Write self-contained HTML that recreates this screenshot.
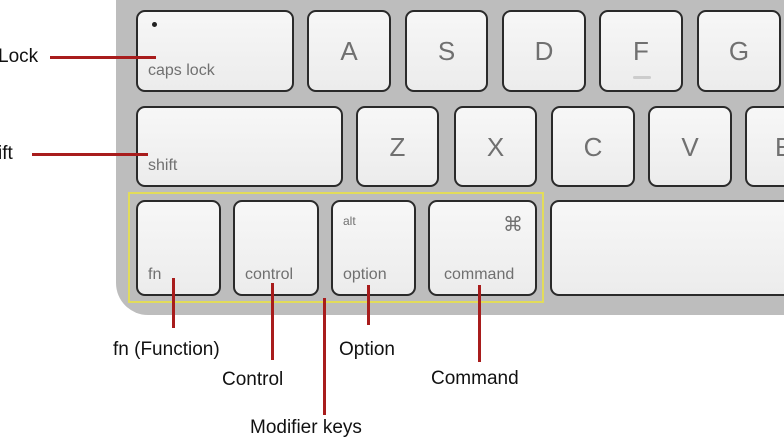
<!DOCTYPE html>
<html><head><style>
body{margin:0;width:784px;height:442px;background:#fff;position:relative;overflow:hidden;font-family:"Liberation Sans",sans-serif}
.base{position:absolute;left:116px;top:-20px;width:700px;height:335px;background:#bdbdbd;border-bottom-left-radius:32px}
.k{position:absolute;background:linear-gradient(#f7f7f7,#ececec);border:2px solid #2a2a2a;border-radius:9px;box-sizing:border-box;color:#707070;font-size:16px}
.k .s{position:absolute;left:10px;bottom:10px}
.k .c{position:absolute;left:0;right:0;top:24px;text-align:center;font-size:26px}
.y{position:absolute;left:128px;top:192px;width:416px;height:111px;border:2px solid #e2dc5a;box-sizing:border-box}
.r{position:absolute;background:#a81c1c}
.l{position:absolute;font-size:19px;color:#111;white-space:nowrap}
</style></head><body>
<div class="base"></div>
<div class="k" style="left:136px;top:10px;width:158px;height:82px"><span style="position:absolute;left:14px;top:10px;width:5px;height:5px;border-radius:50%;background:#222"></span><span class="s">caps lock</span></div>
<div class="k" style="left:307px;top:10px;width:84px;height:82px"><span class="c">A</span></div>
<div class="k" style="left:405px;top:10px;width:83px;height:82px"><span class="c">S</span></div>
<div class="k" style="left:502px;top:10px;width:84px;height:82px"><span class="c">D</span></div>
<div class="k" style="left:599px;top:10px;width:84px;height:82px"><span class="c">F</span><span style="position:absolute;left:32px;top:64px;width:18px;height:3px;border-radius:2px;background:#ccc"></span></div>
<div class="k" style="left:697px;top:10px;width:84px;height:82px"><span class="c">G</span></div>
<div class="k" style="left:136px;top:106px;width:207px;height:81px"><span class="s">shift</span></div>
<div class="k" style="left:356px;top:106px;width:83px;height:81px"><span class="c">Z</span></div>
<div class="k" style="left:454px;top:106px;width:83px;height:81px"><span class="c">X</span></div>
<div class="k" style="left:551px;top:106px;width:84px;height:81px"><span class="c">C</span></div>
<div class="k" style="left:648px;top:106px;width:84px;height:81px"><span class="c">V</span></div>
<div class="k" style="left:745px;top:106px;width:84px;height:81px"><span class="c" style="text-align:left;left:28px">E</span></div>
<div class="k" style="left:136px;top:200px;width:85px;height:96px"><span class="s">fn</span></div>
<div class="k" style="left:233px;top:200px;width:86px;height:96px"><span class="s">control</span></div>
<div class="k" style="left:331px;top:200px;width:85px;height:96px"><span style="position:absolute;left:10px;top:12px;font-size:12px">alt</span><span class="s">option</span></div>
<div class="k" style="left:428px;top:200px;width:109px;height:96px"><span style="position:absolute;right:12px;top:10px;font-size:20px">⌘</span><span class="s" style="left:14px">command</span></div>
<div class="k" style="left:550px;top:200px;width:250px;height:96px"></div>
<div class="y"></div>
<div class="r" style="left:50px;top:56px;width:106px;height:3px"></div>
<div class="r" style="left:32px;top:153px;width:116px;height:3px"></div>
<div class="r" style="left:172px;top:278px;width:3px;height:50px"></div>
<div class="r" style="left:271px;top:283px;width:3px;height:77px"></div>
<div class="r" style="left:323px;top:298px;width:3px;height:117px"></div>
<div class="r" style="left:367px;top:285px;width:3px;height:40px"></div>
<div class="r" style="left:478px;top:285px;width:3px;height:77px"></div>
<div class="l" style="left:-2px;top:46px">Lock</div>
<div class="l" style="left:-2px;top:143px">ift</div>
<div class="l" style="left:113px;top:339px">fn (Function)</div>
<div class="l" style="left:222px;top:369px">Control</div>
<div class="l" style="left:339px;top:339px">Option</div>
<div class="l" style="left:431px;top:368px">Command</div>
<div class="l" style="left:250px;top:417px">Modifier keys</div>
</body></html>
